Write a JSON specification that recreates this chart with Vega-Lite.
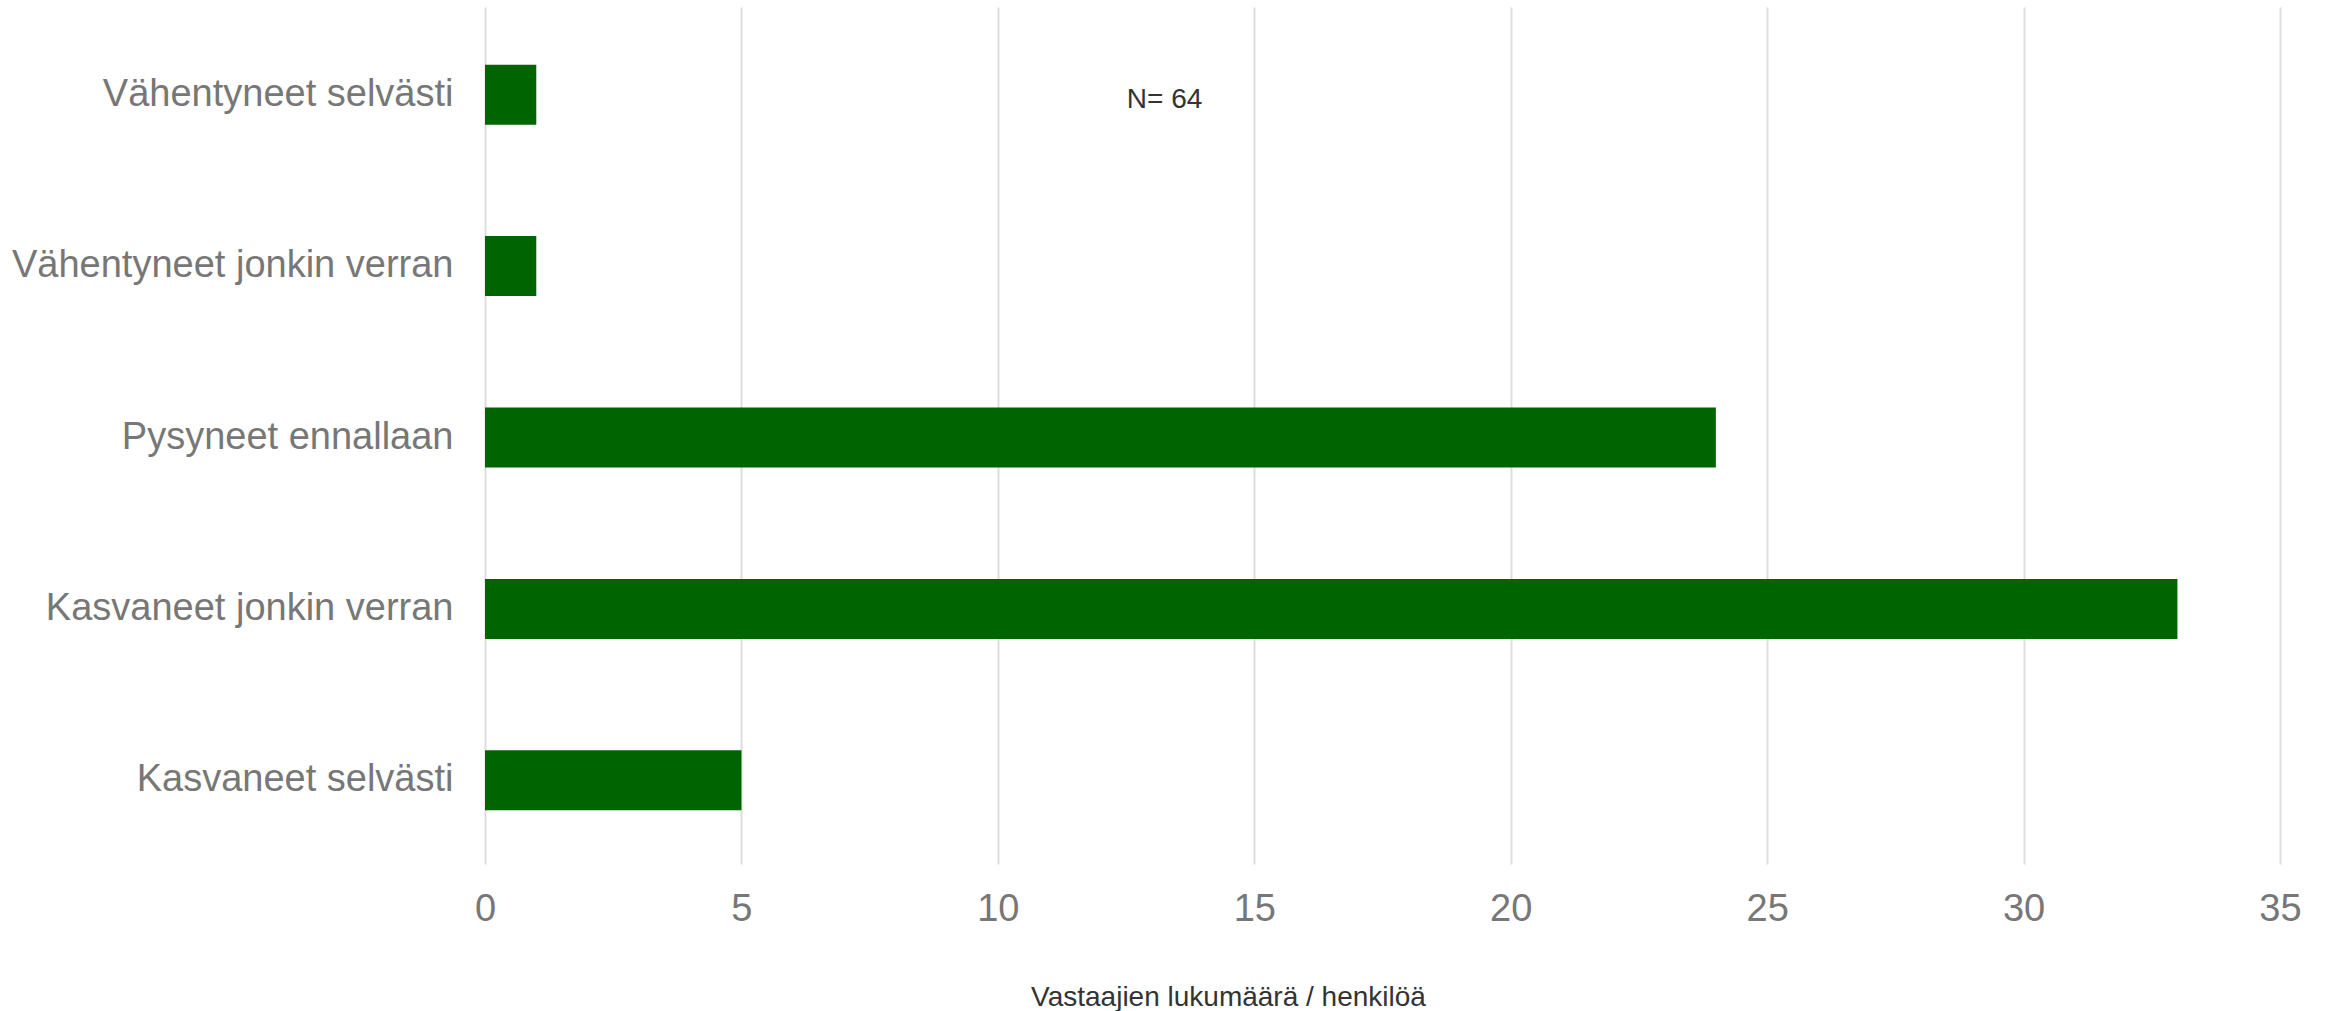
{
  "$schema": "https://vega.github.io/schema/vega-lite/v6.json",
  "autosize": {"type": "none"},
  "padding": {"left": 485, "top": 7, "right": 48, "bottom": 147},
  "width": 1795,
  "height": 857,
  "background": "white",
  "config": {
    "view": {"stroke": null},
    "font": "Liberation Sans"
  },
  "data": {
    "values": [
      {"kategoria": "Vähentyneet selvästi", "lukumaara": 1},
      {"kategoria": "Vähentyneet jonkin verran", "lukumaara": 1},
      {"kategoria": "Pysyneet ennallaan", "lukumaara": 24},
      {"kategoria": "Kasvaneet jonkin verran", "lukumaara": 33},
      {"kategoria": "Kasvaneet selvästi", "lukumaara": 5}
    ]
  },
  "layer": [
    {
      "mark": {"type": "bar", "color": "#006400", "yOffset": 2},
      "encoding": {
        "y": {
          "field": "kategoria",
          "type": "nominal",
          "sort": null,
          "scale": {"paddingInner": 0.65, "paddingOuter": 0.325},
          "axis": {
            "title": null,
            "domain": false,
            "ticks": false,
            "labelFont": "Liberation Sans",
            "labelFontSize": 38,
            "labelColor": "#777777",
            "labelPadding": 32,
            "labelLimit": 600,
            "labelOffset": 2
          }
        },
        "x": {
          "field": "lukumaara",
          "type": "quantitative",
          "scale": {"domain": [0, 35], "nice": false},
          "axis": {
            "values": [0, 5, 10, 15, 20, 25, 30, 35],
            "title": "Vastaajien lukumäärä / henkilöä",
            "titleFont": "Liberation Sans",
            "titleFontSize": 28,
            "titleFontWeight": "normal",
            "titleColor": "#333333",
            "titleX": 743,
            "titleY": 141,
            "titleAlign": "center",
            "titleBaseline": "alphabetic",
            "domain": false,
            "ticks": false,
            "grid": true,
            "gridColor": "#dddddd",
            "gridWidth": 2,
            "labelFlush": false,
            "labelFont": "Liberation Sans",
            "labelFontSize": 38,
            "labelColor": "#777777",
            "labelPadding": 26
          }
        }
      }
    },
    {
      "data": {"values": [{"teksti": "N= 64", "x": 13.25, "kategoria": "Vähentyneet selvästi"}]},
      "mark": {"type": "text", "fontSize": 28, "color": "#333333", "font": "Liberation Sans", "align": "center", "baseline": "middle", "dy": 7},
      "encoding": {
        "text": {"field": "teksti"},
        "x": {"field": "x", "type": "quantitative"},
        "y": {"field": "kategoria", "type": "nominal", "sort": null}
      }
    }
  ]
}
